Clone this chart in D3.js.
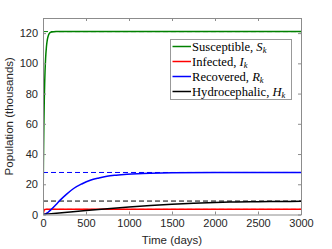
<!DOCTYPE html>
<html>
<head>
<meta charset="utf-8">
<script src="https://cdn.jsdelivr.net/npm/d3@7"></script>
<style>
  body { margin: 0; background: #fff; }
  svg text { font-family: "Liberation Sans", Arial, sans-serif; }
</style>
</head>
<body>
<div id="chart"></div>
<script>
// Series (time in days, population in thousands)
var susceptible = [[0,0],[5,34],[10,59],[15,76],[20,88],[30,103],[40,111],[50,115.5],[60,118],[80,120.2],[100,120.8],[150,121],[3000,121]];
var infected = [[0,0],[10,2.2],[20,3.2],[40,3.4],[3000,3.4]];
var recovered = [[0,0],[30,0.3],[60,1.5],[100,3.6],[150,6.5],[200,9.5],[275,13.5],[356,17.2],[450,20.2],[550,22.7],[650,24.2],[744,25.3],[850,26],[977,26.6],[1100,27],[1248,27.3],[1500,27.6],[2000,27.8],[3000,27.8]];
var hydro = [[0,0],[250,1.3],[500,2.6],[750,3.8],[1000,4.9],[1250,5.9],[1500,6.8],[1750,7.5],[2000,8.0],[2250,8.3],[2500,8.5],[2750,8.6],[3000,8.7]];
var equilibria = [121, 3.4, 27.8, 8.9];
var colors = ["#008000", "#ff0000", "#0000ff", "#000000"];
var names = ["Susceptible, ", "Infected, ", "Recovered, ", "Hydrocephalic, "];
var symbols = ["S", "I", "R", "H"];
var xTicks = [0, 500, 1000, 1500, 2000, 2500, 3000];
var yTicks = [0, 20, 40, 60, 80, 100, 120];

var width = 332, height = 249;
var plotLeft = 43, plotRight = 301, plotTop = 18, plotBottom = 214.5;

var svg = d3.select("#chart").append("svg")
  .attr("width", width)
  .attr("height", height);

var x = d3.scaleLinear().domain([0, 3000]).range([plotLeft, plotRight]);
var y = d3.scaleLinear().domain([0, 130]).range([plotBottom, plotTop]);

svg.append("clipPath").attr("id", "clip")
  .append("rect").attr("x", plotLeft).attr("y", plotTop)
  .attr("width", plotRight - plotLeft).attr("height", plotBottom - plotTop);

var plot = svg.append("g").attr("clip-path", "url(#clip)");

// dashed equilibrium lines
equilibria.forEach(function(v, i) {
  plot.append("line")
    .attr("x1", x(0)).attr("x2", x(3000))
    .attr("y1", y(v)).attr("y2", y(v))
    .attr("stroke", colors[i])
    .attr("stroke-width", 1)
    .attr("stroke-dasharray", "5,3");
});

var line = d3.line()
  .x(function(d) { return x(d[0]); })
  .y(function(d) { return y(d[1]); })
  .curve(d3.curveMonotoneX);

[susceptible, infected, recovered, hydro].forEach(function(s, i) {
  plot.append("path")
    .attr("d", line(s))
    .attr("fill", "none")
    .attr("stroke", colors[i])
    .attr("stroke-width", 1.5);
});

// axes box
var axisColor = "#8c8c8c";
var textColor = "#262626";

var xAxis = svg.append("g").attr("transform", "translate(0," + plotBottom + ")")
  .call(d3.axisBottom(x).tickValues(xTicks).tickFormat(d3.format("d")).tickSizeInner(-3).tickSizeOuter(0).tickPadding(5));
var xTop = svg.append("g").attr("transform", "translate(0," + plotTop + ")")
  .call(d3.axisTop(x).tickValues(xTicks).tickSizeInner(-3).tickSizeOuter(0).tickFormat(""));
var yAxis = svg.append("g").attr("transform", "translate(" + plotLeft + ",0)")
  .call(d3.axisLeft(y).tickValues(yTicks).tickSizeInner(-3).tickSizeOuter(0).tickPadding(5));
var yRight = svg.append("g").attr("transform", "translate(" + plotRight + ",0)")
  .call(d3.axisRight(y).tickValues(yTicks).tickSizeInner(-3).tickSizeOuter(0).tickFormat(""));

[xAxis, xTop, yAxis, yRight].forEach(function(g) {
  g.select(".domain").attr("stroke", axisColor);
  g.selectAll(".tick line").attr("stroke", axisColor);
  g.selectAll(".tick text")
    .attr("fill", textColor)
    .style("font-size", "11px");
});

svg.append("text")
  .attr("x", (plotLeft + plotRight) / 2).attr("y", 244)
  .attr("text-anchor", "middle")
  .attr("fill", textColor)
  .style("font-size", "11.5px")
  .text("Time (days)");

svg.append("text")
  .attr("transform", "translate(13," + ((plotTop + plotBottom) / 2) + ") rotate(-90)")
  .attr("text-anchor", "middle")
  .attr("fill", textColor)
  .style("font-size", "11.5px")
  .text("Population (thousands)");

// legend
var legend = svg.append("g");
legend.append("rect")
  .attr("x", 170.5).attr("y", 39.5)
  .attr("width", 121).attr("height", 60)
  .attr("fill", "#fff")
  .attr("stroke", "#999")
  .attr("stroke-width", 1);

var rowY = [46.5, 61.5, 76.5, 91.5];
names.forEach(function(n, i) {
  legend.append("line")
    .attr("x1", 172.5).attr("x2", 191)
    .attr("y1", rowY[i]).attr("y2", rowY[i])
    .attr("stroke", colors[i])
    .attr("stroke-width", 1.5);
  var t = legend.append("text")
    .attr("x", 192).attr("y", rowY[i] + 4)
    .attr("fill", "#000")
    .style("font-family", "'Liberation Serif', 'Times New Roman', serif")
    .style("font-size", "12.6px");
  t.append("tspan").text(n);
  t.append("tspan").style("font-style", "italic").text(symbols[i]);
  t.append("tspan").style("font-style", "italic").style("font-size", "8.5px")
    .attr("dy", 2).text("k");
});
</script>
</body>
</html>
